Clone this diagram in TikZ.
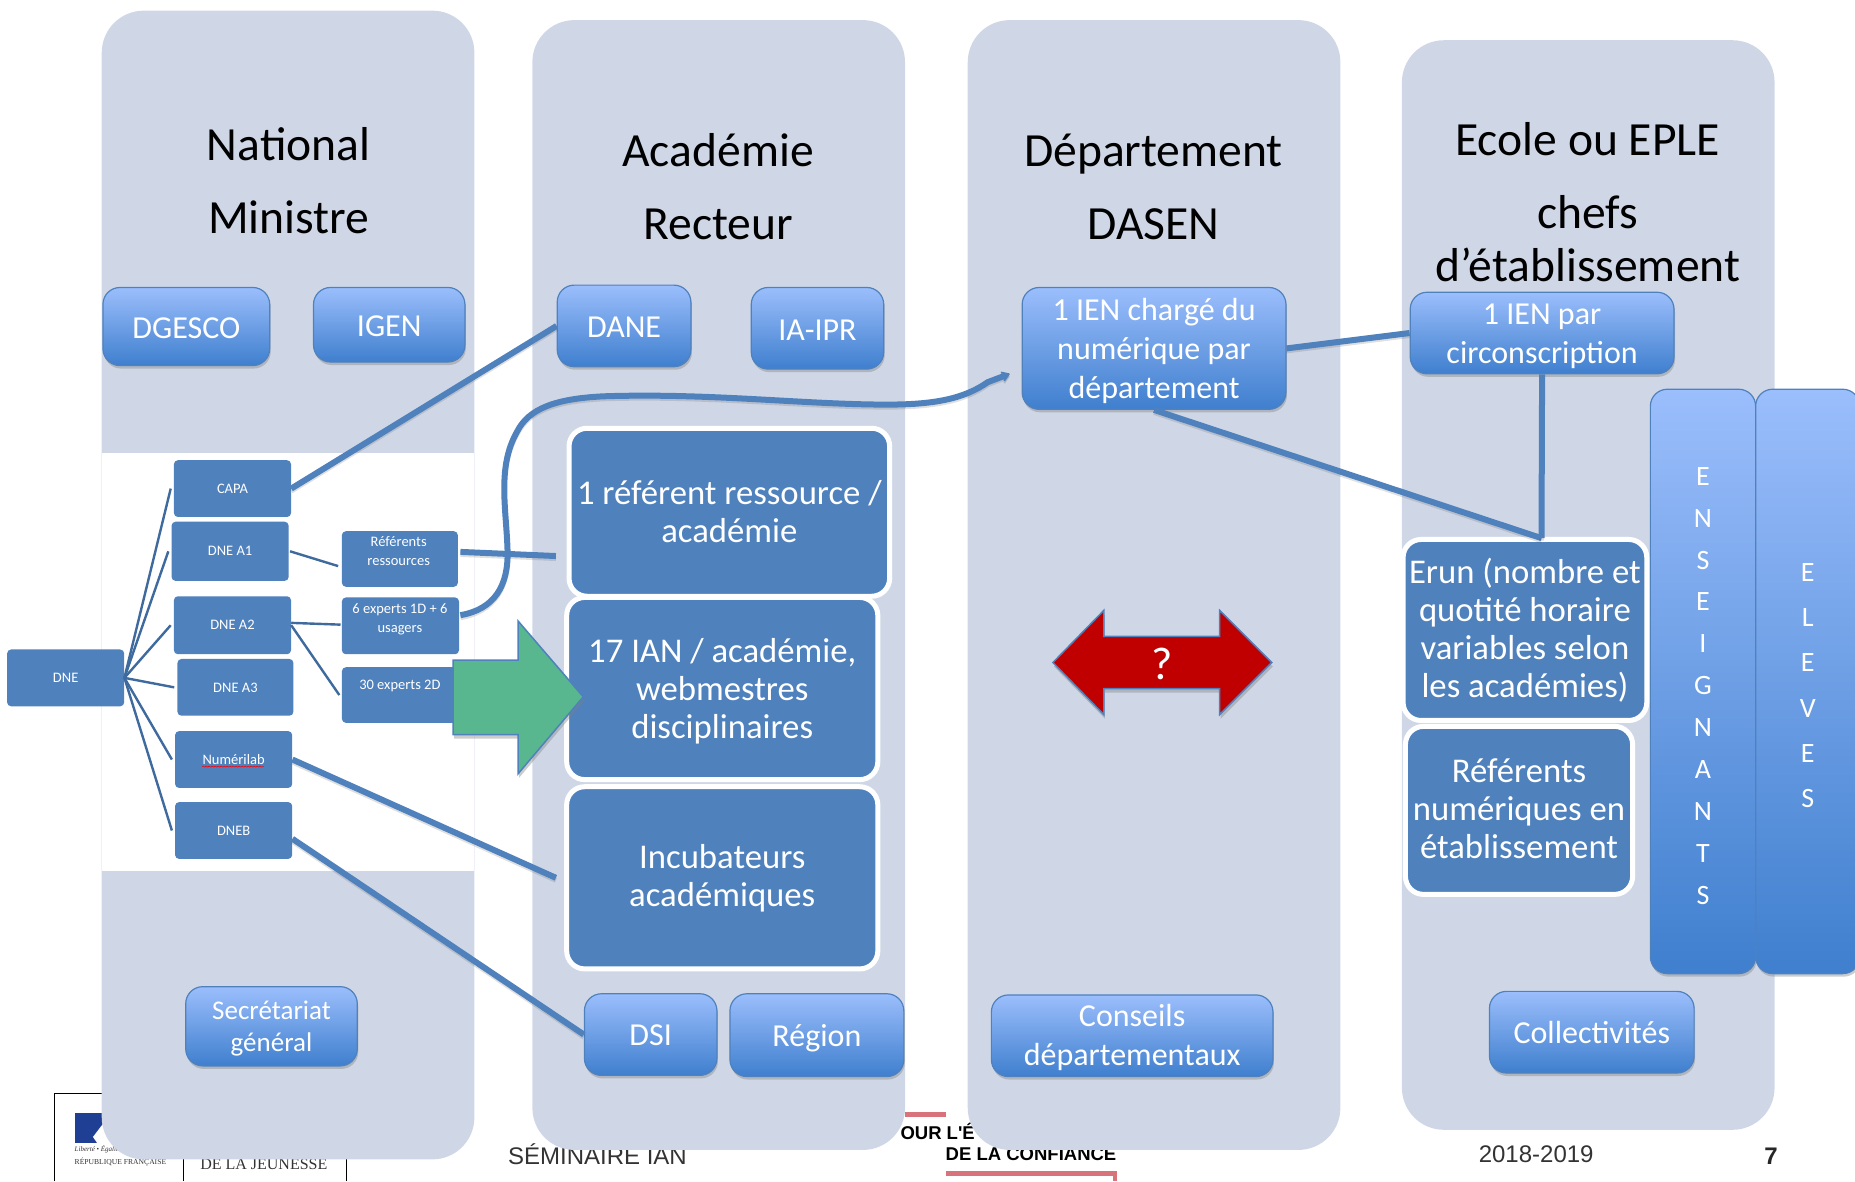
\documentclass[tikz,border=0pt]{standalone}
\usepackage{fontspec}
\setmainfont{Carlito}
\newfontfamily\arialf{Liberation Sans}
\newfontfamily\timesf{Liberation Serif}
\usetikzlibrary{shadows,arrows.meta,decorations.pathmorphing}
\definecolor{panelc}{HTML}{CFD7E7}
\definecolor{flatc}{HTML}{4F81BD}
\definecolor{topc}{HTML}{9BBEFC}
\definecolor{botc}{HTML}{3F7FCE}
\definecolor{thinc}{HTML}{3F6A9E}
\definecolor{greenc}{HTML}{58B78F}
\definecolor{redc}{HTML}{C00000}
\definecolor{footred}{HTML}{D8737B}
\definecolor{flagc}{HTML}{1F3F94}
\tikzset{
  panel/.style={fill=panelc,rounded corners=42pt},
  box/.style={inner sep=0pt,align=center,text=white},
  grad/.style={box,rounded corners=17pt,top color=topc,bottom color=botc,draw=flatc,line width=1.2pt,
    font=\fontsize{32}{39}\selectfont,
    drop shadow={shadow xshift=1pt,shadow yshift=-3pt,opacity=.4}},
  flat/.style={box,rounded corners=18pt,fill=flatc,draw=white,line width=5pt,
    font=\fontsize{34.7}{38}\selectfont},
  small/.style={box,rounded corners=4pt,fill=flatc,font=\fontsize{14.5}{19}\selectfont},
  head/.style={align=center,text=black,inner sep=0pt,font=\fontsize{47.6}{73}\selectfont},
  thinline/.style={draw=thinc,line width=2.4pt},
  thickline/.style={draw=flatc,line width=6pt,
    preaction={draw=black!70,opacity=.18,line width=5pt,transform canvas={yshift=-2.5pt}}},
  block/.style={draw=flatc,line width=1.5pt,drop shadow={shadow xshift=1pt,shadow yshift=-4pt,opacity=.4}},
  foot/.style={inner sep=0pt,text=black!80},
}
\newcommand{\bx}[6]{\node[#1,minimum width={(#5-#3)*1.18304pt},minimum height={(#6-#4)*1.18304pt}] (#2) at ({(#3+#5)/2},{(#4+#6)/2})}
% text lowered by #1 pt inside a box of fixed height and depth
\newcommand{\lo}[2]{\raisebox{-#1pt}[24pt][8pt]{#2}}
\newcommand{\lf}[2]{\raisebox{-#1pt}[26pt][9pt]{#2}}
\newcommand{\lc}[2]{\raisebox{-#1pt}[18pt][0pt]{#2}}
\newcommand{\ls}[2]{\raisebox{-#1pt}[20pt][7pt]{#2}}
\begin{document}
\begin{tikzpicture}[x=1.18304pt,y=-1.18304pt]
\useasboundingbox (0,0) rectangle (1568,998.3);
\clip (0,0) rectangle (1568,998.3);
% footer, under the panels
\draw[black,line width=1pt] (46,998.3) -- (46,924) -- (293,924) -- (293,998.3);
\draw[black,line width=1pt] (155,924) -- (155,998.3);
\fill[flagc] (63,941) rectangle (87,966);
\fill[white] (78.6,961) -- (87,950) -- (87,966) -- (82,966) -- cycle;
\node[foot,anchor=west] (liberte) at (63,971) {\timesf\itshape\fontsize{7}{8}\selectfont Liberté • Égalité};
\node[foot,anchor=west] (republique) at (63,982) {\timesf\fontsize{7.6}{9}\selectfont RÉPUBLIQUE FRANÇAISE};
\node[foot,anchor=center] (jeunesse) at (223,984) {\timesf\fontsize{16}{18}\selectfont DE LA JEUNESSE};
\node[foot,anchor=center] (seminaire) at (505,975.5) {\arialf\fontsize{24}{26}\selectfont SÉMINAIRE IAN};
\node[foot,anchor=west,text=black] (ecole) at (761,956.5) {\arialf\bfseries\fontsize{18.5}{20}\selectfont OUR L'É};
\node[foot,anchor=center,text=black] (confiance) at (871.5,975.5) {\arialf\bfseries\fontsize{18.5}{20}\selectfont DE LA CONFIANCE};
\node[foot,anchor=center] (annee) at (1298.5,976) {\arialf\fontsize{24}{26}\selectfont 2018-2019};
\node[foot,anchor=center,text=black!85] (page) at (1497,977) {\arialf\bfseries\fontsize{24}{26}\selectfont 7};
\fill[footred] (765,940) rectangle (800,944);
\fill[footred] (800,990) rectangle (944,994);
\fill[footred] (941,990) rectangle (944,998.3);
% panels
\fill[panel] (86,9) rectangle (401,980);
\fill[panel] (450,17) rectangle (765,972);
\fill[panel] (818,17) rectangle (1133,972);
\fill[panel] (1185,34) rectangle (1500,955);
\fill[white] (86,383) rectangle (401,736);
% headings
\node[head] (h1) at (244,153) {National\\Ministre};
\node[head] (h2) at (607,158) {Académie\\Recteur};
\node[head] (h3) at (975,158) {Département\\DASEN};
\node[head,anchor=north] (h4) at (1342,103) {Ecole ou EPLE\\chefs\\[-20pt]d’établissement};
% gradient boxes
\bx{grad}{dgesco}{87}{243}{228}{309} {\lo{4.4}{DGESCO}};
\bx{grad}{igen}{265}{243}{393}{306} {\lo{3.8}{IGEN}};
\bx{grad}{dane}{471}{241}{584}{310} {\lo{3.2}{DANE}};
\bx{grad}{iaipr}{635}{243}{747}{312} {\lo{4.4}{IA-IPR}};
\bx{grad}{ien}{864}{243}{1087}{346} {\lo{3.4}{1 IEN chargé du}\\\lo{3.4}{numérique par}\\\lo{3.4}{département}};
\bx{grad}{ienc}{1192}{247}{1415}{316} {\lo{2.8}{1 IEN par}\\\lo{2.8}{circonscription}};
\bx{grad,font=\fontsize{27}{32}\selectfont}{sec}{157}{834}{302}{901} {\ls{2.4}{Secrétariat}\\\ls{2.4}{général}};
\bx{grad}{dsi}{494}{840}{606}{909} {\lo{3.4}{DSI}};
\bx{grad}{region}{617}{840}{764}{910} {\lo{3.6}{Région}};
\bx{grad}{conseils}{838}{841}{1076}{910} {\lo{2.4}{Conseils}\\\lo{2.4}{départementaux}};
\bx{grad}{coll}{1259}{838}{1432}{907} {\lo{3}{Collectivités}};
\bx{grad,font=\fontsize{28}{41.9}\selectfont}{ens}{1395}{329}{1484}{823} {\lc{4.3}{E}\\\lc{4.3}{N}\\\lc{4.3}{S}\\\lc{4.3}{E}\\\lc{4.3}{I}\\\lc{4.3}{G}\\\lc{4.3}{N}\\\lc{4.3}{A}\\\lc{4.3}{N}\\\lc{4.3}{T}\\\lc{4.3}{S}};
\bx{grad,font=\fontsize{28}{45.2}\selectfont}{eleves}{1484}{329}{1572}{823} {\lc{4.1}{E}\\\lc{4.1}{L}\\\lc{4.1}{E}\\\lc{4.1}{V}\\\lc{4.1}{E}\\\lc{4.1}{S}};
% flat boxes
\bx{flat}{r1}{481}{362}{752}{504} {\raisebox{1pt}{1 référent ressource /}\\\raisebox{1pt}{académie}};
\bx{flat}{ian}{479}{505}{742}{659} {\lf{3}{17 IAN / académie,}\\\lf{3}{webmestres}\\\lf{3}{disciplinaires}};
\bx{flat}{inc}{479}{665}{742}{819} {Incubateurs\\académiques};
\bx{flat}{erun}{1186}{456}{1392}{609} {Erun (nombre et\\quotité horaire\\variables selon\\les académies)};
\bx{flat}{refn}{1188}{614}{1380}{756} {\lf{1.8}{Référents}\\\lf{1.8}{numériques en}\\\lf{1.8}{établissement}};
% small boxes
\bx{small}{capa}{147}{389}{246}{437} {CAPA};
\bx{small}{a1}{145}{441}{244}{491} {DNE A1};
\bx{small}{a2}{147}{504}{246}{553} {DNE A2};
\bx{small}{a3}{150}{557}{248}{605} {DNE A3};
\bx{small}{num}{148}{618}{247}{666} {Numérilab};
\bx{small}{dneb}{148}{678}{247}{726} {DNEB};
\bx{small}{dne}{6}{549}{105}{597} {DNE};
\bx{small}{refr}{289}{449}{387}{496} {};
\node[box,font=\fontsize{14.5}{19}\selectfont] (refrt) at (337,466) {Référents\\ressources};
\bx{small}{exp}{289}{505}{388}{553} {};
\node[box,font=\fontsize{14.5}{19}\selectfont] (expt) at (338,523.5) {6 experts 1D + 6\\usagers};
\bx{small}{exd}{289}{564}{388}{611} {};
\node[box,font=\fontsize{14.5}{19}\selectfont] (exdt) at (338,580) {30 experts 2D};
\draw[red,line width=.6pt,decorate,decoration={snake,amplitude=.5pt,segment length=3pt}] (171,648) -- (223,648);
% thin connectors
\foreach \t in {capa,a1,a2,a3,num,dneb}
  \draw[thinline] (dne.east) -- ([xshift=-3pt]\t.west);
\draw[thinline] ([shift={(1,0)}]a1.east) -- ([shift={(-3,6)}]refr.west);
\draw[thinline] ([shift={(0,-2)}]a2.east) -- ([shift={(-1,-1)}]exp.west);
\draw[thinline] ([shift={(0,0)}]a2.east) -- ([shift={(-2,0)}]exd.west);
% thick connectors
\draw[thickline] (capa.east) -- (dane.west);
\draw[thickline] ([shift={(2,-6)}]refr.east) -- ([shift={(-9,37)}]r1.west);
\draw[thickline] (num.east) -- ([shift={(-7,0)}]inc.west);
\draw[thickline] ([shift={(0,7)}]dneb.east) -- (dsi.west);
\draw[thickline] (ien.east) -- (ienc.west) ;
\draw[thickline,-{Stealth[round,length=10pt,width=13pt]}] ([shift={(1,-9)}]exp.east)
  .. controls (418,515) and (430,495) .. (429,465)
  .. controls (428,430) and (420,395) .. (437,365)
  .. controls (447,345) and (470,337) .. (510,335)
  .. controls (600,332) and (680,342) .. (750,342)
  .. controls (790,342) and (815,337) .. (835,323)
  -- ([shift={(-10,21.5)}]ien.west);
\draw[thickline] (ien.south) -- ([shift={(14,1)}]erun.north);
\draw[thickline] (ienc.south) -- ([shift={(14,1)}]erun.north);
% block arrows
\draw[block,fill=greenc] (383,558) -- (438,558) -- (438,525) -- (493,589) -- (438,654) -- (438,621) -- (383,621) -- cycle;
\draw[block,fill=redc] (890,560) -- (933,516) -- (933,538) -- (1031,538) -- (1031,516) -- (1075,560) -- (1031,604) -- (1031,582) -- (933,582) -- (933,604) -- cycle;
\node[box,font=\fontsize{46}{48}\selectfont] (qm) at (982,561) {?};
\end{tikzpicture}
\end{document}
